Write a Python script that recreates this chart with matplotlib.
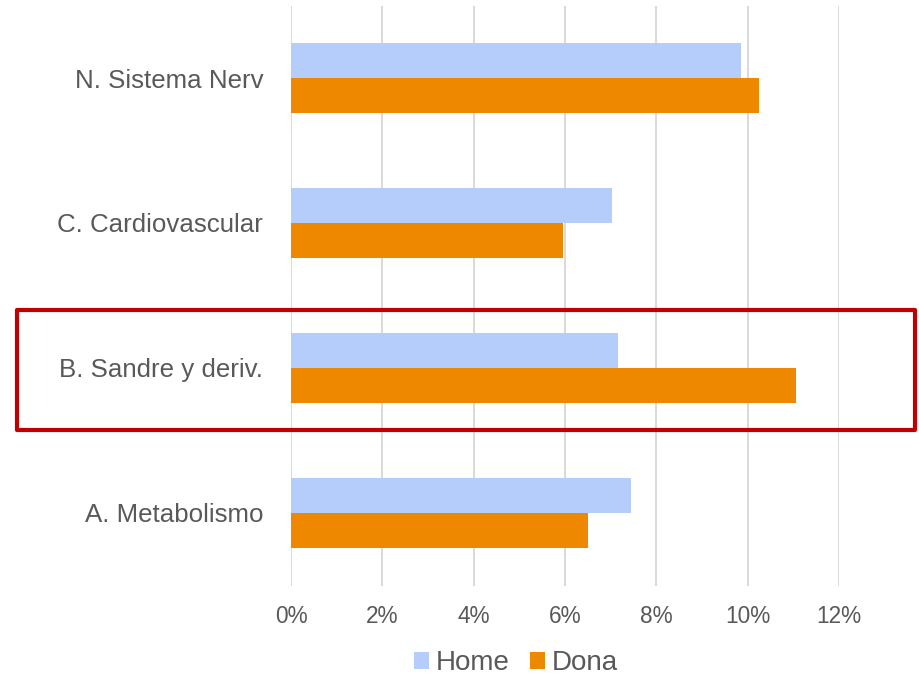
import numpy as np
import matplotlib
matplotlib.use('Agg')
import matplotlib.pyplot as plt
import matplotlib.patches as patches
from matplotlib.ticker import FuncFormatter

plt.rcParams['font.family'] = ['Liberation Sans', 'DejaVu Sans']

# Data (percent), bottom to top
categories = ['A. Metabolismo', 'B. Sandre y deriv.', 'C. Cardiovascular', 'N. Sistema Nerv']
home = [7.44, 7.16, 7.03, 9.85]
dona = [6.50, 11.06, 5.96, 10.25]
x_ticks = [0, 2, 4, 6, 8, 10, 12]

W, H = 919, 675
fig = plt.figure(figsize=(W / 100, H / 100), dpi=100)
ax = fig.add_axes([291 / W, (H - 585.5) / H, (839 - 291) / W, (585.5 - 5.5) / H])

y = np.arange(len(categories))
bh = 0.242
ax.barh(y + bh / 2, home, height=bh, color='#B4CDFA', label='Home', zorder=3)
ax.barh(y - bh / 2, dona, height=bh, color='#EE8800', label='Dona', zorder=3)

ax.set_xlim(0, 12)
ax.set_ylim(-0.5, len(categories) - 0.5)
ax.set_xticks(x_ticks)
ax.xaxis.set_major_formatter(FuncFormatter(lambda v, p: '%d%%' % v))
ax.set_yticks(y)
ax.set_yticklabels(categories)
ax.grid(axis='x', color='#D9D9D9', linewidth=1.4, zorder=0)
for s in ax.spines.values():
    s.set_visible(False)
ax.tick_params(axis='x', length=0, pad=14, labelsize=16.3, labelcolor='#595959')
ax.tick_params(axis='y', length=0, pad=20, labelsize=18.6, labelcolor='#595959')

# legend below the chart
fig.legend(loc='center', bbox_to_anchor=(516 / W, (H - 663) / H), ncol=2, frameon=False,
           fontsize=20, labelcolor='#595959', handlelength=0.55, handleheight=0.55,
           handletextpad=0.25, columnspacing=0.72)

# red highlight box around B
rect = patches.Rectangle((17 / W, (H - 430) / H), (915 - 17) / W, (430 - 310) / H,
                         transform=fig.transFigure, fill=False, edgecolor='#C00000',
                         linewidth=3, joinstyle='round')
fig.add_artist(rect)

fig.savefig('out.png', dpi=100)
